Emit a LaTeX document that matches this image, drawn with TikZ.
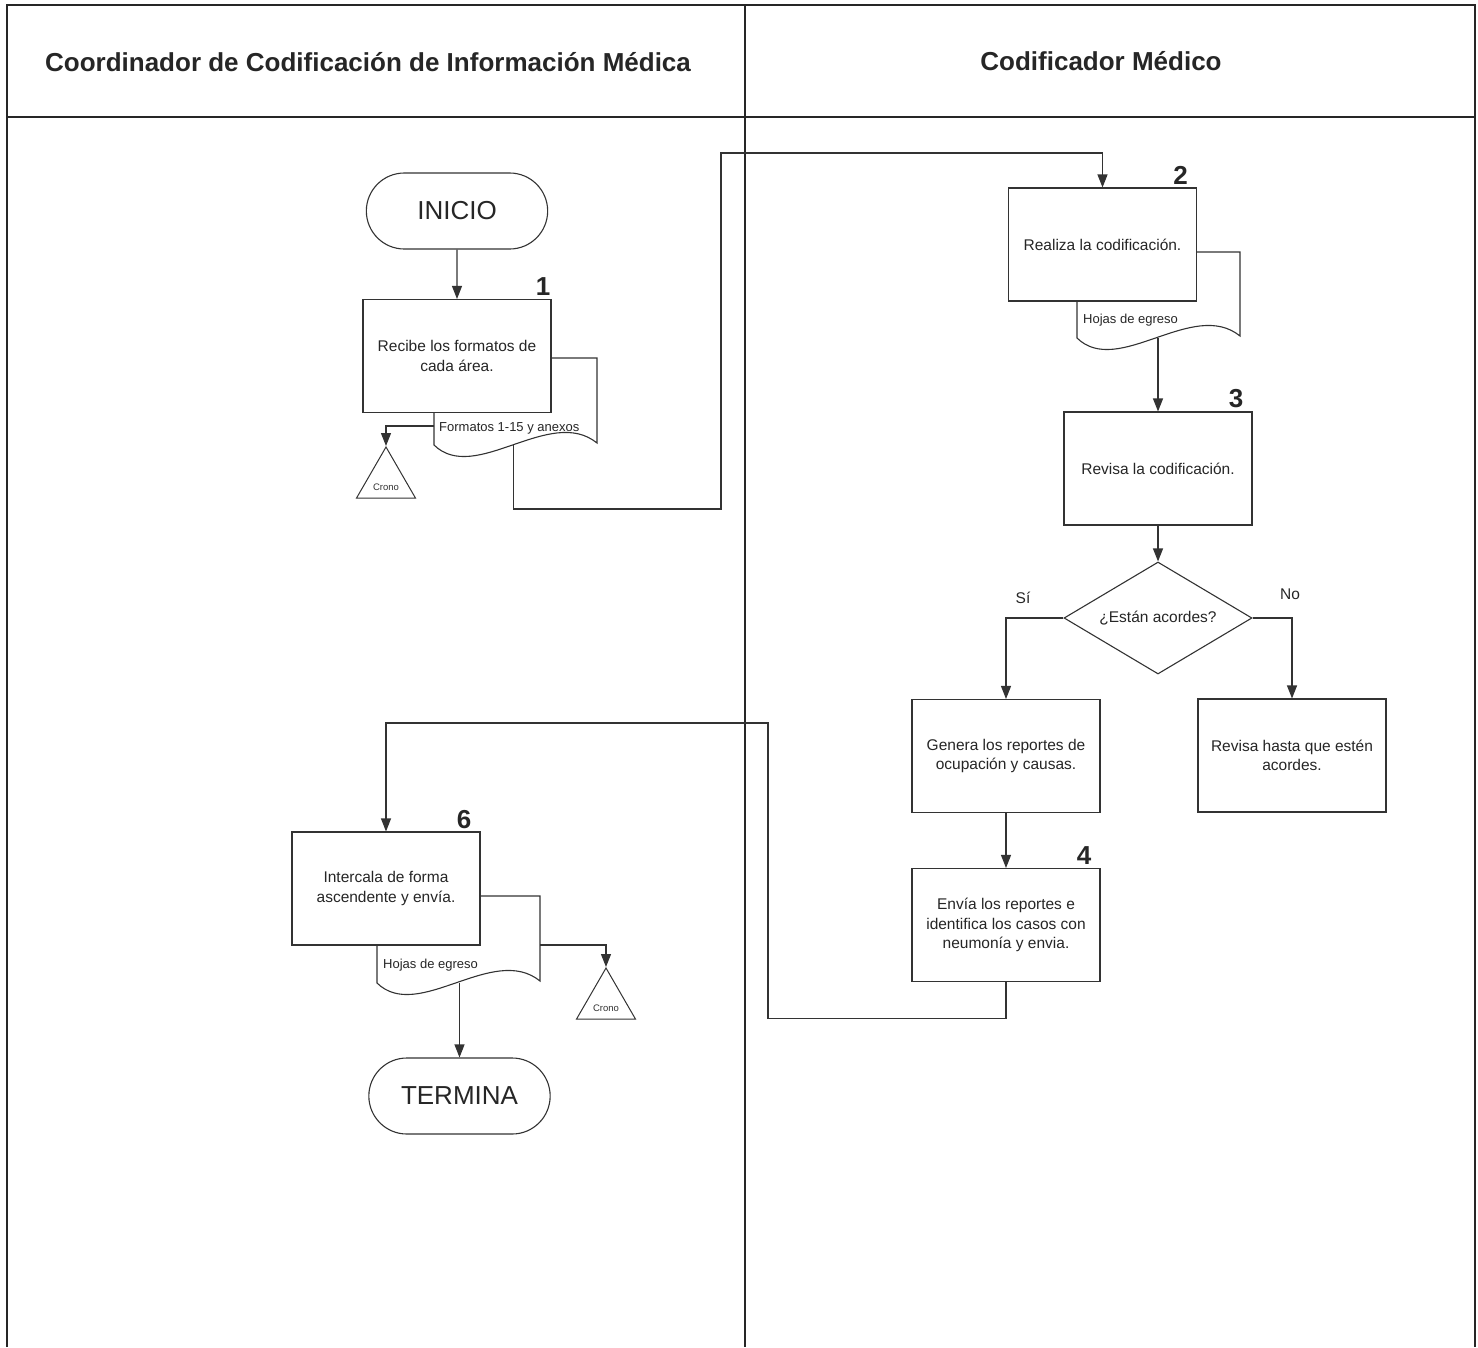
\documentclass[tikz,border=0pt]{standalone}
\usepackage{fontspec}
\setmainfont{Liberation Sans}
\usetikzlibrary{shapes.geometric,shapes.misc,arrows.meta}

\tikzset{
  frame/.style={line width=1.8pt, draw=black!85},
  proc/.style={draw=black!80, line width=1.1pt, fill=white, minimum width=188pt,
    minimum height=113pt, align=center, text=black!85,
    font=\fontsize{15.5}{19.5}\selectfont},
  term/.style={draw=black!80, line width=1.1pt, fill=white, rounded rectangle,
    minimum width=188pt, minimum height=76pt, text=black!85,
    font=\fontsize{26}{30}\selectfont},
  decis/.style={draw=black!80, line width=1.1pt, fill=white, diamond, aspect=1.7,
    minimum width=188pt, minimum height=112pt, inner sep=0pt, text=black!85,
    font=\fontsize{15.5}{19.5}\selectfont},
  crono/.style={draw=black!80, line width=1pt, fill=white, regular polygon,
    regular polygon sides=3, minimum size=68pt, inner sep=0pt},
  docu/.style={draw=black!80, line width=1.1pt, fill=white},
  doctext/.style={anchor=west, inner sep=0pt, text=black!85,
    font=\fontsize{13}{15}\selectfont},
  arr/.style={draw=black!80, line width=1.1pt, -{Triangle[width=10pt,length=13pt]}},
  num/.style={font=\bfseries\fontsize{26}{30}\selectfont, text=black!85, inner sep=1pt,
    anchor=south east, xshift=-8pt, yshift=2pt},
  lbl/.style={font=\fontsize{15.5}{19}\selectfont, text=black!85}
}

\begin{document}
\begin{tikzpicture}[x=1pt, y=-1pt]
  \useasboundingbox (0,0) rectangle (1478,1347);

  % swimlanes
  \draw[frame] (7,1347) -- (7,5) -- (1475,5) -- (1475,1347);
  \draw[frame, line width=2.4pt] (7,117) -- (1475,117);
  \draw[frame] (745,5) -- (745,1347);
  \node[font=\bfseries\fontsize{26}{30}\selectfont, text=black!85] (laneA) at (368,62)
    {Coordinador de Codificación de Información Médica};
  \node[font=\bfseries\fontsize{26}{30}\selectfont, text=black!85] (laneB) at (1101,61)
    {Codificador Médico};

  % documents (drawn first, the boxes cover their upper part)
  \draw[docu] (434,358) -- (597,358) -- (597,443)
    .. controls (550,405) and (475,485) .. coordinate[pos=0.5] (d1w) (434,445) -- cycle;
  \node[doctext] (doc1) at (439,428) {Formatos 1-15 y anexos};
  \coordinate (d1l) at (434,426);

  \draw[docu] (1077,252) -- (1240,252) -- (1240,336)
    .. controls (1193,298) and (1118,378) .. coordinate[pos=0.5] (d2w) (1077,338) -- cycle;
  \node[doctext] (doc2) at (1083,320) {Hojas de egreso};

  \draw[docu] (377,896) -- (540,896) -- (540,981)
    .. controls (493,943) and (418,1023) .. coordinate[pos=0.5] (d6w) (377,983) -- cycle;
  \node[doctext] (doc6) at (383,965) {Hojas de egreso};
  \coordinate (d6r) at (540,945);

  % lane 1
  \node[term] (inicio) at (457,211) {INICIO};
  \node[proc, label={[num, xshift=8pt]north east:1}] (box1) at (457,356)
    {Recibe los formatos de\\cada área.};
  \node[crono, label={[font=\fontsize{9.5}{11}\selectfont, text=black!80, yshift=-6pt]center:Crono}]
    (crono1) at (386,481) {};
  \node[proc, label={[num]north east:6}] (box6) at (386,888.5)
    {Intercala de forma\\ascendente y envía.};
  \node[crono, label={[font=\fontsize{9.5}{11}\selectfont, text=black!80, yshift=-6pt]center:Crono}]
    (crono2) at (606,1002) {};
  \node[term] (termina) at (459.5,1096) {TERMINA};

  % lane 2
  \node[proc, label={[num]north east:2}] (box2) at (1102.5,244.5)
    {Realiza la codificación.};
  \node[proc, label={[num]north east:3}] (box3) at (1158,468.5)
    {Revisa la codificación.};
  \node[decis] (acordes) at (1158,618) {¿Están acordes?};
  \node[proc] (genera) at (1006,756) {Genera los reportes de\\ocupación y causas.};
  \node[proc] (revisa) at (1292,755.5) {Revisa hasta que estén\\acordes.};
  \node[proc, label={[num]north east:4}] (box4) at (1006,925)
    {Envía los reportes e\\identifica los casos con\\neumonía y envia.};
  \node[lbl] (si) at (1023,598) {Sí};
  \node[lbl] (no) at (1290,594) {No};

  % connectors
  \draw[arr] (inicio) -- (box1);
  \draw[arr] (d1l) -| (crono1.corner 1);
  \draw[arr] (d1w) -- (d1w |- 0,509) -| (721,153) -| (box2.north);
  \draw[arr] (box3.north |- d2w) -- (box3.north);
  \draw[arr] (box3) -- (acordes);
  \draw[arr] (acordes.west) -| (genera.north);
  \draw[arr] (acordes.east) -| (revisa.north);
  \draw[arr] (genera) -- (box4);
  \draw[arr] (box4.south) -- ++(0,36) -| (768,723) -| (box6.north);
  \draw[arr] (d6r) -| (crono2.corner 1);
  \draw[arr] (termina.north |- d6w) -- (termina.north);
\end{tikzpicture}
\end{document}
